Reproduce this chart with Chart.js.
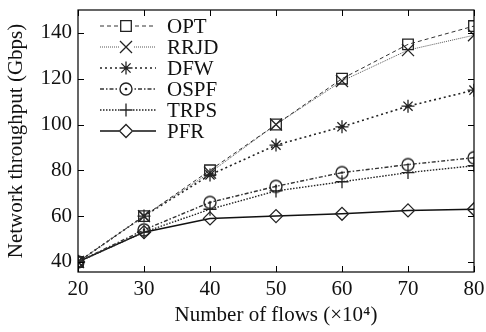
<!DOCTYPE html>
<html><head><meta charset="utf-8">
<script src="https://cdn.jsdelivr.net/npm/chart.js@4/dist/chart.umd.min.js"></script>
<style>html,body{margin:0;padding:0;background:#fff}#wrap{width:486px;height:332px}</style>
</head><body><div id="wrap"><canvas id="c" width="486" height="332"></canvas></div>
<script>
const flows = [20, 30, 40, 50, 60, 70, 80];
const OPT  = [40, 60, 80, 100, 120, 135, 143];
const RRJD = [40, 60, 79, 100, 119, 132.5, 139];
const DFW  = [40, 60, 78, 91, 99, 108, 115];
const OSPF = [40, 54, 66, 73, 79, 82.5, 85.5];
const TRPS = [40, 53, 63, 71, 75, 79, 82];
const PFR  = [40, 53, 59, 60, 61, 62.5, 63];
const yTicks = [40, 60, 80, 100, 120, 140];
const xTicks = [20, 30, 40, 50, 60, 70, 80];

function circDot(){
  const c=document.createElement('canvas');c.width=16;c.height=16;
  const g=c.getContext('2d');g.strokeStyle='#222';g.lineWidth=1.4;
  g.beginPath();g.arc(8,8,6,0,Math.PI*2);g.stroke();
  g.fillStyle='#222';g.beginPath();g.arc(8,8,1.3,0,Math.PI*2);g.fill();
  return c;
}
const ospfImg=circDot();

function ds(label,data,dash,width,color,ps,rad){
  return {label,data:data.map((v,i)=>({x:flows[i],y:v})),borderColor:color,borderWidth:width,borderDash:dash,
    pointStyle:ps,pointRadius:rad,pointBorderColor:'#222',pointBackgroundColor:'rgba(0,0,0,0)',pointBorderWidth:1.3,
    fill:false,tension:0};
}
const datasets=[
  ds('OPT',OPT,[4,3],1,'#333','rect',7.5),
  ds('RRJD',RRJD,[1,1],1,'#555','crossRot',8.5),
  ds('DFW',DFW,[2,3],1.6,'#222','star',6.5),
  ds('OSPF',OSPF,[4,2,1.5,2],1.4,'#333',ospfImg,7),
  ds('TRPS',TRPS,[1.5,1.5],1.4,'#222','cross',6.5),
  ds('PFR',PFR,[],1.5,'#111','rectRot',6.5),
];

const frame={id:'frame',afterDraw(ch){
  const g=ch.ctx,a=ch.chartArea,xs=ch.scales.x,ys=ch.scales.y;
  g.save();g.strokeStyle='#000';g.lineWidth=1.2;g.setLineDash([]);
  g.strokeRect(a.left,a.top,a.right-a.left,a.bottom-a.top);
  g.lineWidth=1;
  xTicks.forEach(v=>{const x=Math.round(xs.getPixelForValue(v))+0.5;
    g.beginPath();g.moveTo(x,a.bottom);g.lineTo(x,a.bottom-6);g.moveTo(x,a.top);g.lineTo(x,a.top+6);g.stroke();});
  yTicks.forEach(v=>{const y=Math.round(ys.getPixelForValue(v))+0.5;
    g.beginPath();g.moveTo(a.left,y);g.lineTo(a.left+6,y);g.moveTo(a.right,y);g.lineTo(a.right-6,y);g.stroke();});
  // legend
  g.font='21px "Liberation Serif"';g.textBaseline='middle';
  ch.data.datasets.forEach((d,i)=>{
    const y=26+i*21;
    g.save();g.strokeStyle=d.borderColor;g.lineWidth=d.borderWidth;g.setLineDash(d.borderDash);
    g.beginPath();g.moveTo(100,y);g.lineTo(156,y);g.stroke();g.restore();
    g.save();g.fillStyle='#fff';g.fillRect(119,y-7,14,14);g.restore();
    g.save();g.fillStyle='rgba(0,0,0,0)';g.strokeStyle='#222';g.lineWidth=1.3;g.setLineDash([]);
    Chart.helpers.drawPoint(g,{pointStyle:d.pointStyle,radius:d.pointRadius,borderWidth:1.3,rotation:0},126,y);
    g.restore();
    g.fillStyle='#111';g.fillText(d.label,167,y+1);
  });
  g.restore();
}};

Chart.defaults.font.family='"Liberation Serif"';
Chart.defaults.color='#111';
new Chart(document.getElementById('c'),{
  type:'line',
  data:{datasets},
  options:{
    responsive:false,animation:false,devicePixelRatio:1,
    layout:{padding:{top:10,right:12,left:0,bottom:0}},
    plugins:{legend:{display:false},tooltip:{enabled:false}},
    elements:{point:{borderColor:'#222',backgroundColor:'rgba(0,0,0,0)'}},
    scales:{
      x:{type:'linear',min:20,max:80,
        afterBuildTicks:s=>{s.ticks=xTicks.map(v=>({value:v}));},
        afterFit:s=>{s.height=60;s.paddingLeft=0;s.paddingRight=0;},
        grid:{display:false,drawTicks:false},border:{display:false},
        ticks:{font:{size:21},padding:5,maxRotation:0,color:'#111'},
        title:{display:true,text:'Number of flows (×10⁴)',font:{size:21},color:'#111',padding:{top:0}}},
      y:{min:35.6,max:150,
        afterBuildTicks:s=>{s.ticks=yTicks.map(v=>({value:v}));},
        afterFit:s=>{s.width=78;s.paddingTop=0;s.paddingBottom=0;},
        grid:{display:false,drawTicks:false},border:{display:false},
        ticks:{font:{size:21},padding:6,color:'#111'},
        title:{display:true,text:'Network throughput (Gbps)',font:{size:21},color:'#111',padding:{bottom:0}}}
    }
  },
  plugins:[frame]
});
</script></body></html>
